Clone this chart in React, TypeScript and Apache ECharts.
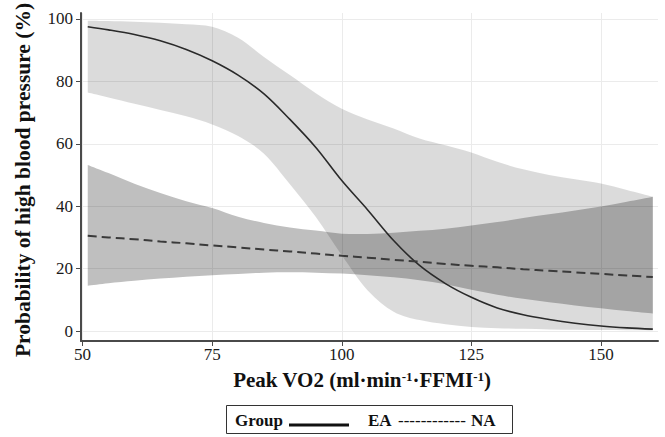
import React, { useEffect, useRef } from 'react';
import * as echarts from 'echarts';

// Peak VO2 values (x)
const xs = [51, 55, 60, 65, 70, 75, 80, 85, 90, 95, 100, 105, 110, 115, 120, 125, 130, 135, 140, 145, 150, 155, 160];

// EA group: fitted probability and 95% CI
const eaFit = [97.5, 96.5, 95.0, 93.0, 90.2, 86.6, 82.0, 76.0, 67.8, 58.8, 48.2, 38.8, 29.0, 21.0, 15.2, 10.8, 7.4, 5.2, 3.7, 2.5, 1.6, 1.0, 0.6];
const eaUpper = [99.4, 99.3, 99.1, 98.8, 98.3, 97.5, 94.0, 87.8, 82.0, 76.2, 71.2, 67.8, 64.9, 61.7, 59.5, 57.2, 54.2, 51.8, 50.0, 48.6, 47.3, 45.2, 43.0];
const eaLower = [76.4, 74.8, 72.8, 70.8, 68.8, 66.2, 62.5, 56.8, 47.0, 36.5, 24.3, 13.0, 6.2, 3.5, 2.2, 1.3, 0.9, 0.7, 0.5, 0.4, 0.3, 0.25, 0.2];

// NA group: fitted probability and 95% CI
const naFit = [30.5, 30.0, 29.4, 28.7, 28.1, 27.4, 26.8, 26.1, 25.5, 24.8, 24.1, 23.5, 22.8, 22.2, 21.5, 20.9, 20.4, 19.8, 19.3, 18.8, 18.3, 17.8, 17.3];
const naUpper = [53.2, 50.6, 47.2, 44.2, 41.6, 39.4, 36.6, 34.6, 33.2, 32.2, 31.2, 31.1, 31.5, 32.1, 32.8, 33.8, 34.9, 36.2, 37.4, 38.6, 39.9, 41.4, 43.0];
const naLower = [14.5, 15.3, 16.1, 16.8, 17.4, 17.9, 18.3, 18.7, 18.8, 18.7, 18.4, 17.9, 17.2, 16.3, 15.0, 13.2, 11.6, 10.3, 9.2, 8.2, 7.3, 6.4, 5.6];

// Tick values
const xTicks = [50, 75, 100, 125, 150];
const yTicks = [0, 20, 40, 60, 80, 100];

const FONT = '"Liberation Serif", "Times New Roman", serif';

type Pt = number[];

// Smooth curve (Catmull-Rom as cubic Bezier) through screen points, continuing an existing path
function curveThrough(pts: Pt[]): string {
  let d = '';
  for (let i = 0; i < pts.length - 1; i++) {
    const p0 = pts[Math.max(0, i - 1)];
    const p1 = pts[i];
    const p2 = pts[i + 1];
    const p3 = pts[Math.min(pts.length - 1, i + 2)];
    const c1x = p1[0] + (p2[0] - p0[0]) / 6;
    const c1y = p1[1] + (p2[1] - p0[1]) / 6;
    const c2x = p2[0] - (p3[0] - p1[0]) / 6;
    const c2y = p2[1] - (p3[1] - p1[1]) / 6;
    d += ` C ${c1x.toFixed(2)} ${c1y.toFixed(2)} ${c2x.toFixed(2)} ${c2y.toFixed(2)} ${p2[0].toFixed(2)} ${p2[1].toFixed(2)}`;
  }
  return d;
}

function bandSeries(name: string, upper: number[], lower: number[], fill: string) {
  return {
    name,
    type: 'custom',
    silent: true,
    data: xs.map((x, i) => [x, upper[i], lower[i]]),
    encode: { x: 0, y: [1, 2] },
    renderItem: (params: any, api: any) => {
      if (params.dataIndex !== 0) return null;
      const top = xs.map((x, i) => api.coord([x, upper[i]]));
      const bot = xs.map((x, i) => api.coord([x, lower[i]])).reverse();
      let d = `M ${top[0][0].toFixed(2)} ${top[0][1].toFixed(2)}`;
      d += curveThrough(top);
      d += ` L ${bot[0][0].toFixed(2)} ${bot[0][1].toFixed(2)}`;
      d += curveThrough(bot);
      d += ' Z';
      return {
        type: 'path',
        shape: { pathData: d },
        style: { fill, stroke: 'none' },
        silent: true,
      };
    },
  };
}

export default function App() {
  const ref = useRef<HTMLDivElement>(null);

  useEffect(() => {
    if (!ref.current) return;
    const chart = echarts.init(ref.current, null, { renderer: 'svg' });
    const pair = (ys: number[]) => xs.map((x, i) => [x, ys[i]]);

    const option: any = {
      animation: false,
      backgroundColor: '#ffffff',
      grid: { left: 81, right: 7, top: 13, bottom: 96, containLabel: false, outerBoundsMode: 'none' },
      xAxis: {
        type: 'value',
        min: 49.7,
        max: 161,
        axisLine: { show: true, onZero: false, lineStyle: { color: '#4a4a4a', width: 2 } },
        axisTick: { show: true, length: 5, customValues: xTicks, lineStyle: { color: '#4a4a4a', width: 1 } },
        axisLabel: { customValues: xTicks, color: '#1a1a1a', fontFamily: FONT, fontSize: 17, margin: 5 },
        splitLine: { show: true, lineStyle: { color: '#ebebeb', width: 1 } },
      },
      yAxis: {
        type: 'value',
        min: -3.2,
        max: 101.9,
        axisLine: { show: true, onZero: false, lineStyle: { color: '#4a4a4a', width: 2 } },
        axisTick: { show: true, length: 5, customValues: yTicks, lineStyle: { color: '#4a4a4a', width: 1 } },
        axisLabel: { customValues: yTicks, color: '#1a1a1a', fontFamily: FONT, fontSize: 17, margin: 8 },
        splitLine: { show: true, lineStyle: { color: '#ebebeb', width: 1 } },
      },
      series: [
        bandSeries('EA 95% CI', eaUpper, eaLower, 'rgba(0,0,0,0.14)'),
        bandSeries('NA 95% CI', naUpper, naLower, 'rgba(0,0,0,0.25)'),
        {
          name: 'EA', type: 'line', data: pair(eaFit), symbol: 'none', smooth: 0.35,
          lineStyle: { color: '#2a2a2a', width: 1.6 },
        },
        {
          name: 'NA', type: 'line', data: pair(naFit), symbol: 'none', smooth: 0.35,
          lineStyle: { color: '#3a3a3a', width: 2, type: [9, 5] },
        },
      ],
      graphic: [
        {
          type: 'text', x: 23, y: 180, rotation: Math.PI / 2,
          style: {
            text: 'Probability of high blood pressure (%)', fontFamily: FONT, fontWeight: 'bold', fontSize: 21.5,
            fill: '#111111', align: 'center', verticalAlign: 'middle',
          },
        },
        {
          type: 'text', x: 362, y: 380,
          style: {
            text: '{b|Peak VO2 (ml·min}{s|-1}{b|·FFMI}{s|-1}{b|)}',
            align: 'center', verticalAlign: 'middle', fill: '#111111',
            rich: {
              b: { fontFamily: FONT, fontWeight: 'bold', fontSize: 21, fill: '#111111' },
              s: { fontFamily: FONT, fontWeight: 'bold', fontSize: 13, fill: '#111111', verticalAlign: 'top' },
            },
          },
        },
        {
          type: 'rect', shape: { x: 226.5, y: 405.5, width: 286, height: 28 },
          style: { fill: '#ffffff', stroke: '#333333', lineWidth: 1 },
        },
        {
          type: 'text', x: 235, y: 420,
          style: { text: 'Group', fontFamily: FONT, fontWeight: 'bold', fontSize: 17, fill: '#111111', verticalAlign: 'middle' },
        },
        {
          type: 'line', shape: { x1: 289, y1: 425, x2: 349, y2: 425 },
          style: { stroke: '#111111', lineWidth: 3 },
        },
        {
          type: 'text', x: 368, y: 420,
          style: { text: 'EA', fontFamily: FONT, fontWeight: 'bold', fontSize: 17, fill: '#111111', verticalAlign: 'middle' },
        },
        {
          type: 'text', x: 398, y: 420,
          style: { text: '------------', fontFamily: FONT, fontWeight: 'normal', fontSize: 17, fill: '#111111', verticalAlign: 'middle' },
        },
        {
          type: 'text', x: 471, y: 420,
          style: { text: 'NA', fontFamily: FONT, fontWeight: 'bold', fontSize: 17, fill: '#111111', verticalAlign: 'middle' },
        },
      ],
    };
    chart.setOption(option);
    return () => chart.dispose();
  }, []);

  return (
    <div
      ref={ref}
      style={{ position: 'absolute', left: 0, top: 0, width: 665, height: 437, background: '#ffffff' }}
    />
  );
}
